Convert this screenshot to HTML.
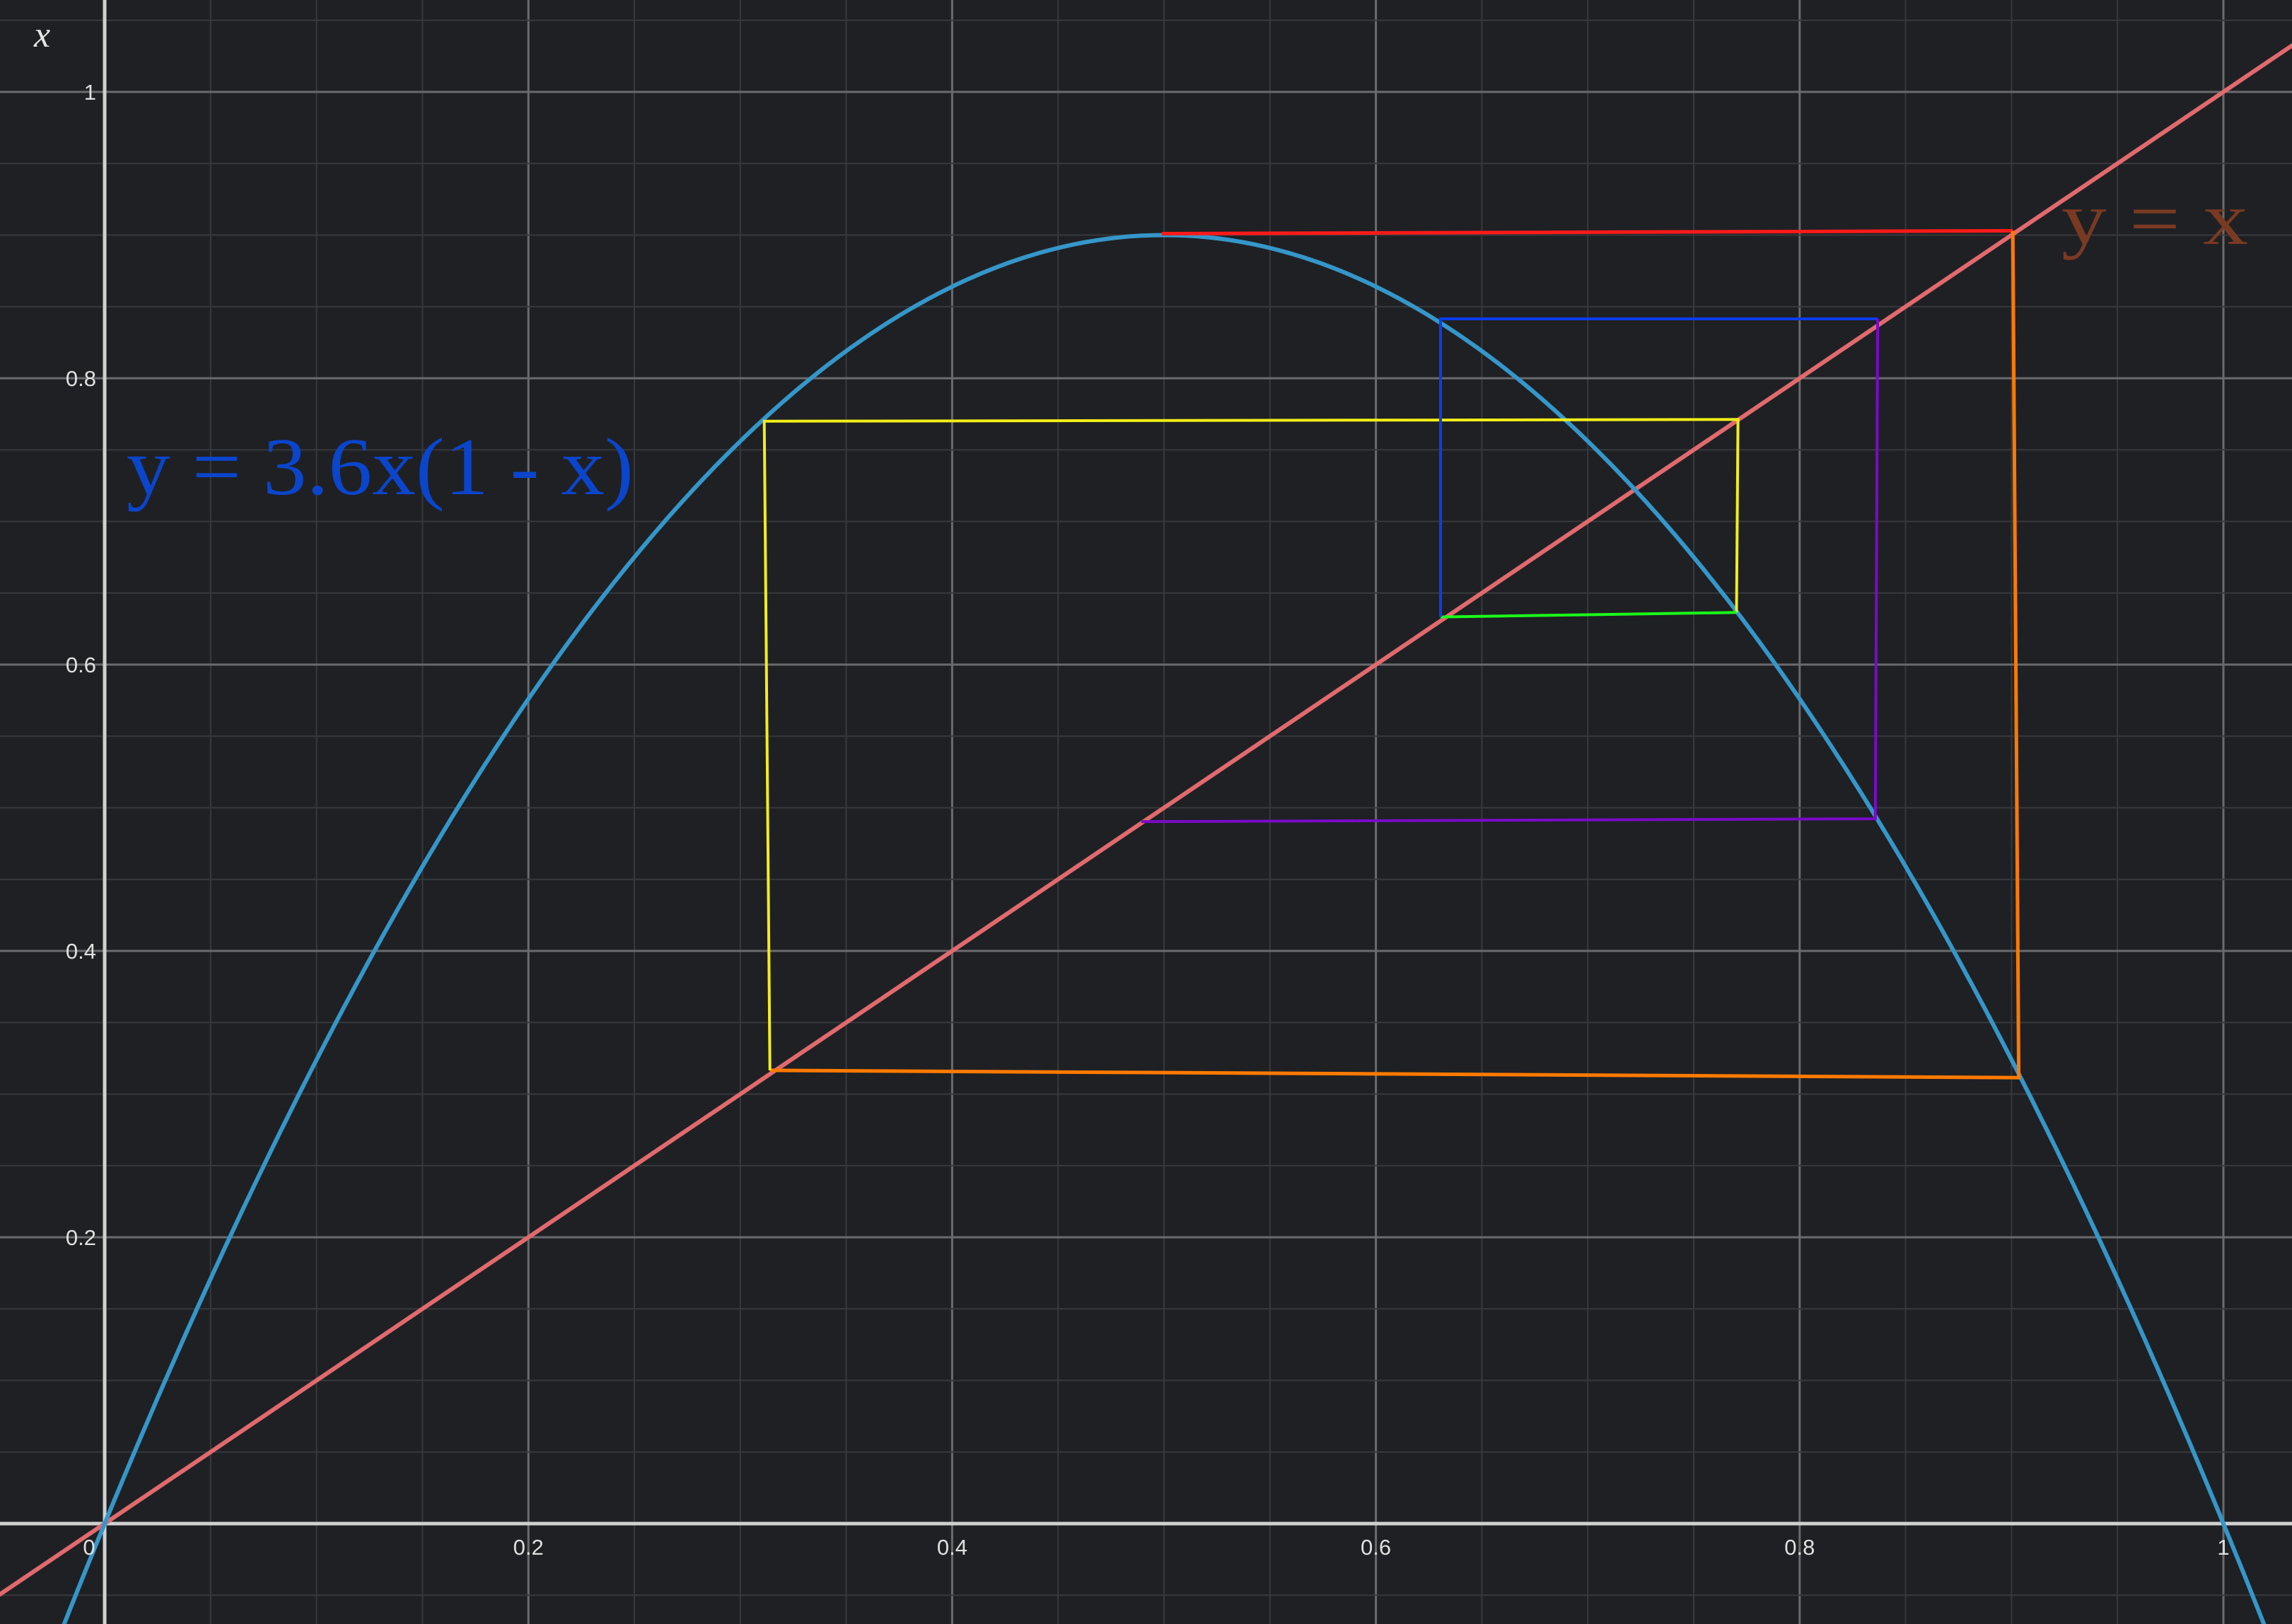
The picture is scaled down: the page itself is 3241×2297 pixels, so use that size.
<!DOCTYPE html>
<html><head><meta charset="utf-8">
<style>html,body{margin:0;padding:0;background:#1f2023;overflow:hidden;width:3241px;height:2297px}svg{display:block}</style>
</head><body>
<svg id="chart" width="3241" height="2297" viewBox="0 0 3241 2297" xmlns="http://www.w3.org/2000/svg">
<rect x="0" y="0" width="3241" height="2297" fill="#1f2023"/>
<g id="grid"></g>
<g id="series"></g>
<g id="labels"></g>
<text x="48" y="66" fill="#e6e6e6" font-family="Liberation Serif, serif" font-style="italic" font-size="52">x</text>
<text x="179" y="699" fill="#0a45cc" font-family="Liberation Serif, serif" font-size="116" textLength="717" lengthAdjust="spacingAndGlyphs">y = 3.6x(1 - x)</text>
<text x="2915" y="345" fill="#7a3a22" font-family="Liberation Serif, serif" font-size="106" textLength="264" lengthAdjust="spacingAndGlyphs">y = x</text>
</svg>
<script>
const xTicks = [0, 0.2, 0.4, 0.6, 0.8, 1];
const xTickLabels = ["0", "0.2", "0.4", "0.6", "0.8", "1"];
const yTicks = [0.2, 0.4, 0.6, 0.8, 1];
const yTickLabels = ["0.2", "0.4", "0.6", "0.8", "1"];
const mapR = [3.6];
const segColors = ["#ff1a1a", "#ff7a00", "#f2ee1a", "#1aff1a", "#0a3df0", "#7a0ac8"];
const segX = [[0.499, 0.9006], [0.9006, 0.9034, 0.314], [0.314, 0.3113, 0.7709, 0.7702], [0.7702, 0.6305], [0.6305, 0.6305, 0.8368], [0.8368, 0.8357, 0.4893]];
const segY = [[0.901, 0.903], [0.903, 0.3115, 0.3166], [0.3166, 0.770, 0.7712, 0.6364], [0.6364, 0.6333], [0.6333, 0.8415, 0.8415], [0.8415, 0.4923, 0.4903]];

const NS = "http://www.w3.org/2000/svg";
const X = v => 148 + 2996 * v;
const Y = v => 2155 - 2025 * v;
function mk(tag, attrs, parent) {
  const e = document.createElementNS(NS, tag);
  for (const k in attrs) e.setAttribute(k, attrs[k]);
  parent.appendChild(e);
  return e;
}
const grid = document.getElementById("grid");
const series = document.getElementById("series");
const labels = document.getElementById("labels");
for (let i = -1; i <= 22; i++) {
  const v = i * 0.05;
  const major = i % 4 === 0;
  const l = mk("line", {x1: X(v), x2: X(v), y1: 0, y2: 2297, stroke: major ? "#6a6b6e" : "#37393c", "stroke-width": major ? 3 : 2}, grid);
  
  
}
for (let i = -2; i <= 22; i++) {
  const v = i * 0.05;
  const major = i % 4 === 0;
  const l = mk("line", {x1: 0, x2: 3241, y1: Y(v), y2: Y(v), stroke: major ? "#6a6b6e" : "#37393c", "stroke-width": major ? 3 : 2}, grid);
  
  
}
const ax1 = mk("line", {x1: 0, x2: 3241, y1: Y(0), y2: Y(0), stroke: "#d0d0d0", "stroke-width": 5}, grid);


const ax2 = mk("line", {x1: X(0), x2: X(0), y1: 0, y2: 2297, stroke: "#d0d0d0", "stroke-width": 5}, grid);



xTicks.forEach((v, i) => {
  const t = mk("text", {x: i === 0 ? X(v) - 22 : X(v), y: Y(0) + 44, fill: "#e0e0e0", "font-family": "Liberation Sans, sans-serif", "font-size": 31, "text-anchor": "middle"}, labels);
  t.textContent = xTickLabels[i];
  
  
});
yTicks.forEach((v, i) => {
  const t = mk("text", {x: X(0) - 12, y: Y(v) + 11, fill: "#e0e0e0", "font-family": "Liberation Sans, sans-serif", "font-size": 31, "text-anchor": "end"}, labels);
  t.textContent = yTickLabels[i];
  
  
});

const d = mk("line", {x1: X(-0.06), y1: Y(-0.06), x2: X(1.1), y2: Y(1.1), stroke: "#e06a6e", "stroke-width": 6}, series);



let pts = [];
for (let i = 0; i <= 400; i++) {
  const x = -0.03 + i * (1.06 / 400);
  pts.push(X(x).toFixed(1) + "," + Y(mapR[0] * x * (1 - x)).toFixed(1));
}
const c = mk("polyline", {points: pts.join(" "), fill: "none", stroke: "#3596c9", "stroke-width": 6}, series);



segX.forEach((xs, i) => {
  const p = xs.map((x, j) => X(x).toFixed(1) + "," + Y(segY[i][j]).toFixed(1)).join(" ");
  const s = mk("polyline", {points: p, fill: "none", stroke: segColors[i], "stroke-width": i < 2 ? 5 : 4, "stroke-linejoin": "miter"}, series);
  
  
});
</script>
</body></html>
